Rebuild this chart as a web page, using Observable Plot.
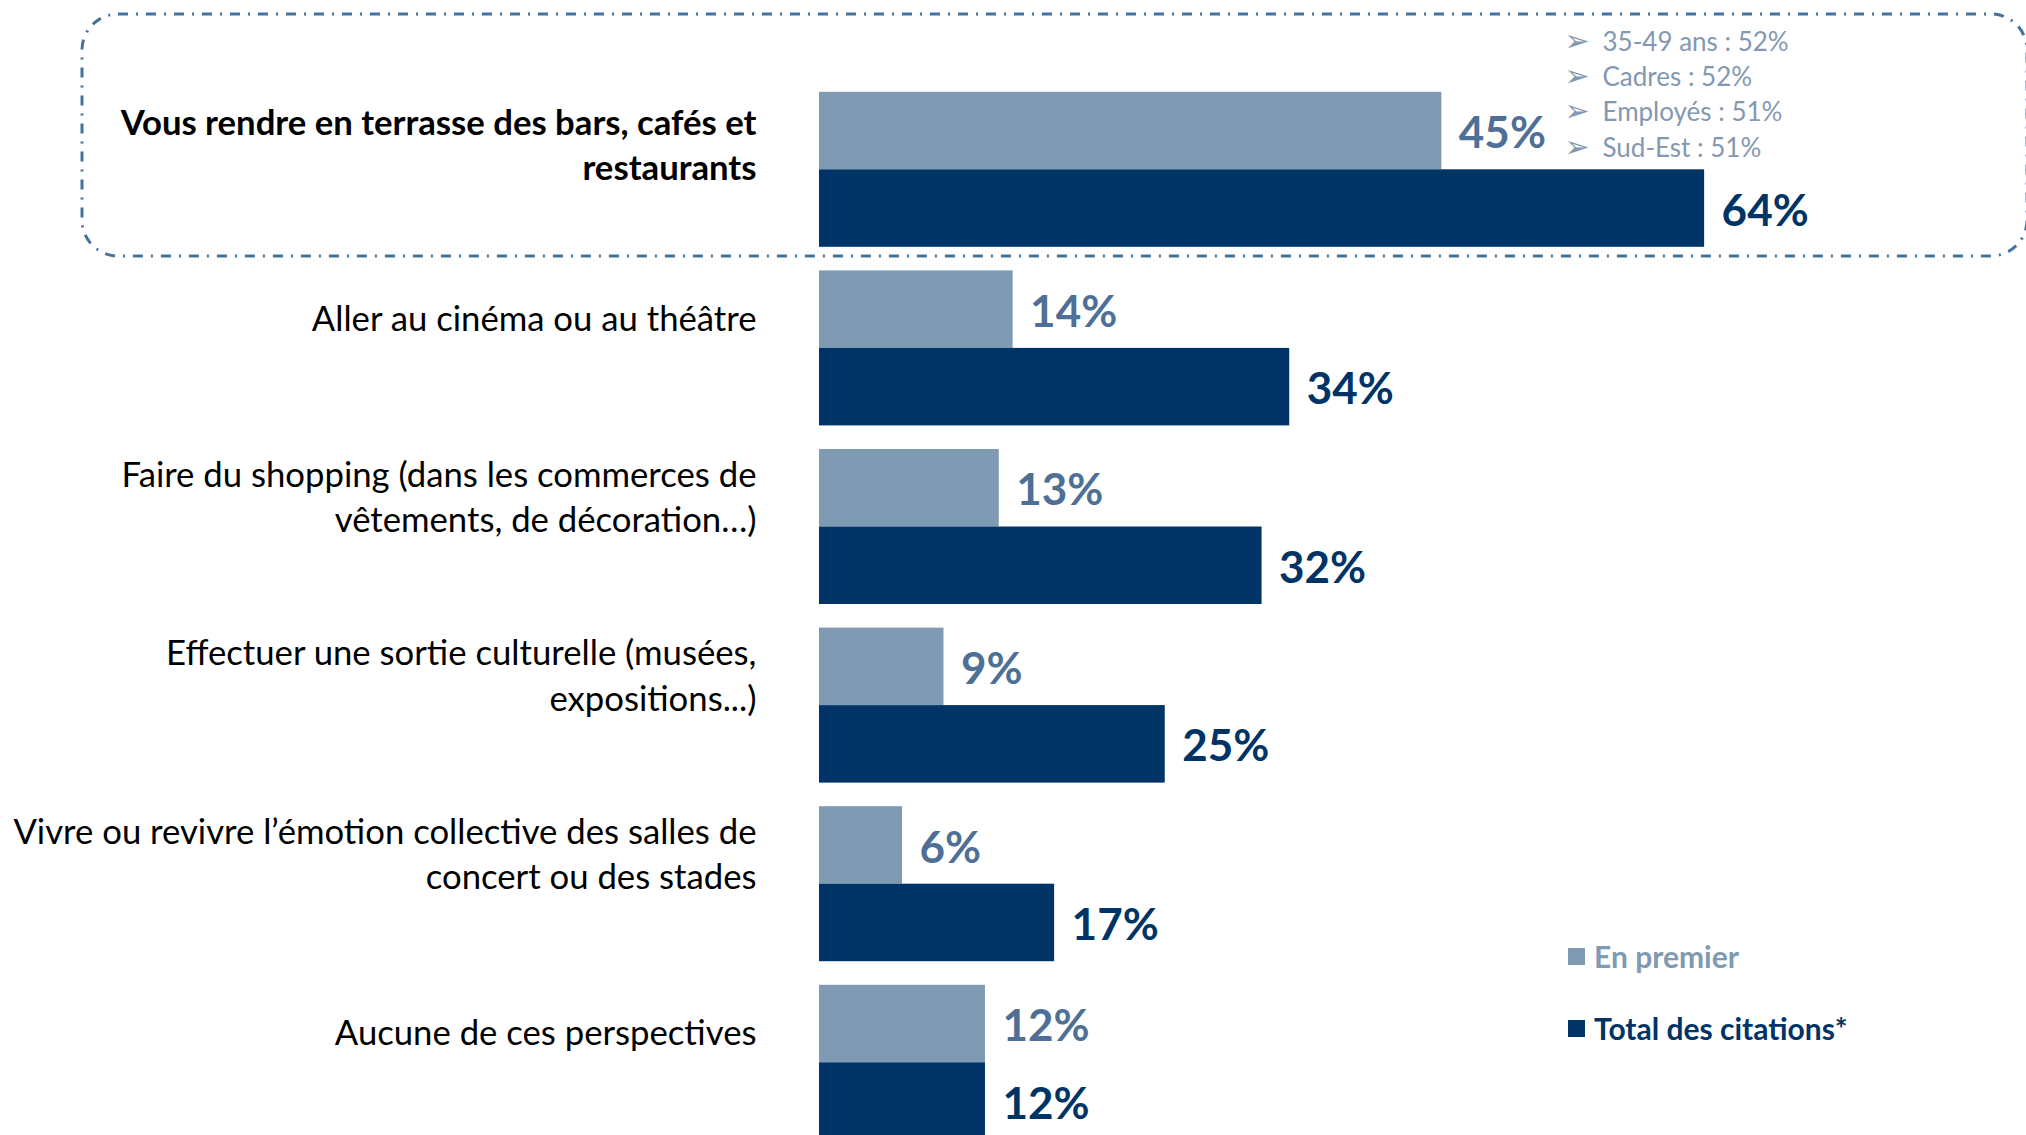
<!DOCTYPE html>
<html>
<head>
<meta charset="utf-8">
<script src="https://cdn.jsdelivr.net/npm/d3@7"></script>
<script src="https://cdn.jsdelivr.net/npm/@observablehq/plot@0.6"></script>
<style>
  html, body { margin: 0; padding: 0; background: #ffffff; overflow: hidden; }
  #wrap { position: relative; width: 2026px; height: 1135px; overflow: hidden; font-family: Lato, "Open Sans", sans-serif; }
  #legend { position: absolute; left: 1568px; top: 938px; }
  .item { display: flex; align-items: center; height: 36px; font-weight: 700; font-size: 30px; }
  .item + .item { margin-top: 36px; }
  .sw { width: 17px; height: 17px; margin-right: 9px; }
</style>
</head>
<body>
<div id="wrap"></div>
<script>
// ---- data ----
const categories = [
  "Vous rendre en terrasse des bars, cafés et\nrestaurants",
  "Aller au cinéma ou au théâtre",
  "Faire du shopping (dans les commerces de\nvêtements, de décoration…)",
  "Effectuer une sortie culturelle (musées,\nexpositions...)",
  "Vivre ou revivre l’émotion collective des salles de\nconcert ou des stades",
  "Aucune de ces perspectives"
];
const enPremier = [45, 14, 13, 9, 6, 12];
const totalCitations = [64, 34, 32, 25, 17, 12];
const highlights = ["35-49 ans : 52%", "Cadres : 52%", "Employés : 51%", "Sud-Est : 51%"];
const seriesNames = ["En premier", "Total des citations*"];

// ---- styles ----
const lightBar = "#7f9ab3";
const lightText = "#4f7096";
const darkBar = "#003366";
const noteColor = "#8398b1";
const boxColor = "#44729f";

const rows = categories.map((c, i) => ({cat: c, premier: enPremier[i], total: totalCitations[i]}));

const yRange = [80, 1151.6];
const padInner = 0.132;
const step = (yRange[1] - yRange[0]) / categories.length;
const bw = step * (1 - padInner);
const half = bw / 2;

const chart = Plot.plot({
  width: 2026,
  height: 1160,
  marginTop: 0, marginBottom: 0, marginLeft: 0, marginRight: 0,
  style: {fontFamily: "Lato, 'Open Sans', sans-serif", background: "#ffffff", overflow: "visible"},
  x: {domain: [0, 100], range: [819, 819 + 1383], axis: null},
  y: {domain: categories, range: yRange, paddingInner: padInner, paddingOuter: padInner / 2, align: 0.5, round: false, axis: null},
  marks: [
    // highlight box around the first category
    Plot.cell([categories[0]], {
      y: d => d, fill: "none", stroke: boxColor, strokeWidth: 3,
      strokeDasharray: "10,8,2,8", rx: 36,
      insetLeft: 82, insetRight: -1, insetTop: -(91.8 - 14), insetBottom: -(256 - 246.8)
    }),
    Plot.barX(rows, {x: "premier", y: "cat", fill: lightBar, insetBottom: half}),
    Plot.barX(rows, {x: "total", y: "cat", fill: darkBar, insetTop: half}),
    Plot.text(rows, {x: "premier", y: "cat", text: d => `${d.premier}%`, dx: 17, dy: -bw / 4 + 3,
      textAnchor: "start", fontWeight: 700, fontSize: 44, fill: lightText}),
    Plot.text(rows, {x: "total", y: "cat", text: d => `${d.total}%`, dx: 17, dy: bw / 4 + 3,
      textAnchor: "start", fontWeight: 700, fontSize: 44, fill: darkBar}),
    // category labels
    Plot.text(rows.slice(0, 1), {x: 0, y: "cat", text: "cat", dx: -63, dy: -27,
      textAnchor: "end", fontWeight: 700, fontSize: 34.7, lineHeight: 1.3, fill: "#000000"}),
    Plot.text(rows.slice(1), {x: 0, y: "cat", text: "cat", dx: -63, dy: -32,
      textAnchor: "end", fontWeight: 400, fontSize: 34.7, lineHeight: 1.3, fill: "#000000"}),
    // sub-group highlights
    Plot.text([highlights.map(() => "➢").join("\n")], {frameAnchor: "top-left", text: d => d,
      dx: 1564, dy: 92, textAnchor: "start", lineAnchor: "middle", fontSize: 30, lineHeight: 35.3 / 30,
      fill: noteColor, fontFamily: "DejaVu Sans"}),
    Plot.text([highlights.join("\n")], {frameAnchor: "top-left", text: d => d,
      dx: 1602, dy: 92, textAnchor: "start", lineAnchor: "middle", fontSize: 26, lineHeight: 35.3 / 26,
      fill: noteColor})
  ]
});

const wrap = document.getElementById("wrap");
wrap.appendChild(chart);

const legend = document.createElement("div");
legend.id = "legend";
const colors = [lightBar, darkBar];
seriesNames.forEach((name, i) => {
  const it = document.createElement("div");
  it.className = "item";
  it.style.color = colors[i];
  const sw = document.createElement("span");
  sw.className = "sw";
  sw.style.background = colors[i];
  it.appendChild(sw);
  it.appendChild(document.createTextNode(name));
  legend.appendChild(it);
});
wrap.appendChild(legend);
</script>
</body>
</html>
